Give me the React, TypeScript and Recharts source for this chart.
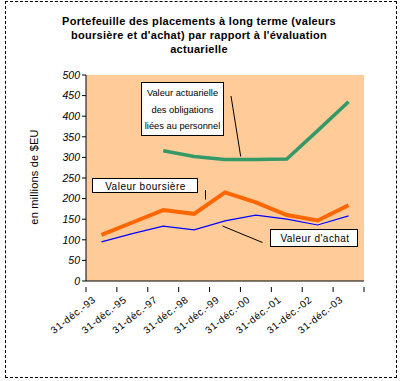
import React from "react";
import { LineChart, Line, XAxis, YAxis, CartesianGrid } from "recharts";

const dates = [
  "31-déc.-93",
  "31-déc.-95",
  "31-déc.-97",
  "31-déc.-98",
  "31-déc.-99",
  "31-déc.-00",
  "31-déc.-01",
  "31-déc.-02",
  "31-déc.-03",
];
const boursiere = [112, 142, 172, 163, 215, 191, 160, 147, 184];
const achat = [95, 115, 133, 124, 146, 160, 150, 136, 158];
const actuarielle = [null, null, 316, 302, 295, 295, 296, 365, 435];
const yTicks = [0, 50, 100, 150, 200, 250, 300, 350, 400, 450, 500];

const data = dates.map((d, i) => ({
  date: d,
  boursiere: boursiere[i],
  achat: achat[i],
  actuarielle: actuarielle[i],
}));

const FONT = "Arial, 'Liberation Sans', sans-serif";
const W = 401;
const H = 381;
const PLOT_W = 278;
const HALF = PLOT_W / dates.length / 2;

function DateTick(props: any) {
  const { x, y, payload, index } = props;
  const last = index === dates.length - 1;
  const tx = x - 5;
  const ty = y + 12;
  return (
    <g>
      <line x1={x - HALF} x2={x - HALF} y1={y - 2} y2={y + 3} stroke="#000" />
      {last && (
        <line x1={x + HALF} x2={x + HALF} y1={y - 2} y2={y + 3} stroke="#000" />
      )}
      <text
        x={tx}
        y={ty}
        textAnchor="end"
        fontSize={10}
        letterSpacing={0.6}
        fontFamily={FONT}
        fill="#000"
        transform={`rotate(-38 ${tx} ${ty})`}
      >
        {payload.value}
      </text>
    </g>
  );
}

export default function App() {
  return (
    <div style={{ position: "absolute", left: 0, top: 0, width: W, height: H, background: "#fff" }}>
      <div
        style={{
          position: "absolute",
          left: 5,
          top: 1,
          width: 390,
          height: 375,
          border: "1px dashed #000",
        }}
      />
      <div style={{ position: "absolute", left: 0, top: 0 }}>
        <LineChart
          width={W}
          height={H}
          data={data}
          margin={{ top: 75, right: 37, bottom: 40, left: 46 }}
        >
          <CartesianGrid horizontal={false} vertical={false} fill="#FFCC99" />
          <XAxis
            dataKey="date"
            padding={{ left: HALF, right: HALF }}
            height={60}
            interval={0}
            tickLine={false}
            axisLine={{ stroke: "#000" }}
            tick={<DateTick />}
          />
          <XAxis
            xAxisId="top"
            dataKey="date"
            orientation="top"
            height={0}
            tick={false}
            tickLine={false}
            axisLine={{ stroke: "#A0A0A0" }}
          />
          <YAxis
            domain={[0, 500]}
            ticks={yTicks}
            width={40}
            interval={0}
            tickSize={4}
            tickLine={{ stroke: "#000" }}
            axisLine={{ stroke: "#000" }}
            tick={{ fontSize: 10.5, fill: "#000", fontFamily: FONT, fontStyle: "italic" }}
          />
          <YAxis
            yAxisId="r"
            orientation="right"
            domain={[0, 500]}
            width={0}
            tick={false}
            tickLine={false}
            axisLine={{ stroke: "#A0A0A0" }}
          />
          <Line
            dataKey="actuarielle"
            type="linear"
            stroke="#339966"
            strokeWidth={3.5}
            dot={false}
            isAnimationActive={false}
          />
          <Line
            dataKey="boursiere"
            type="linear"
            stroke="#FF6600"
            strokeWidth={4}
            dot={false}
            isAnimationActive={false}
          />
          <Line
            dataKey="achat"
            type="linear"
            stroke="#0000FF"
            strokeWidth={1.2}
            dot={false}
            isAnimationActive={false}
          />
        </LineChart>
      </div>
      <svg
        width={W}
        height={H}
        style={{ position: "absolute", left: 0, top: 0, pointerEvents: "none" }}
        fontFamily={FONT}
      >
        <g fontSize={11} fontWeight="bold" textAnchor="middle" fill="#000" letterSpacing={0.3}>
          <text x={199} y={25}>Portefeuille des placements à long terme (valeurs</text>
          <text x={199} y={39}>boursière et d'achat) par rapport à l'évaluation</text>
          <text x={199} y={53}>actuarielle</text>
        </g>
        <text
          x={38}
          y={177}
          fontSize={11}
          textAnchor="middle"
          letterSpacing={0.2}
          transform="rotate(-90 38 177)"
        >
          en millions de $EU
        </text>

        <rect x={141.5} y={82.5} width={82} height={53} fill="#fff" stroke="#000" />
        <g fontSize={9.3} textAnchor="middle">
          <text x={182.5} y={96}>Valeur actuarielle</text>
          <text x={182.5} y={113}>des obligations</text>
          <text x={182.5} y={129}>liées au personnel</text>
        </g>
        <line x1={231} y1={96} x2={240.7} y2={156.5} stroke="#000" />

        <rect x={92.5} y={178.5} width={105} height={14} fill="#fff" stroke="#000" />
        <text x={145.5} y={189.5} fontSize={10} letterSpacing={0.5} textAnchor="middle">
          Valeur boursière
        </text>
        <line x1={205.5} y1={190} x2={205.5} y2={199.5} stroke="#000" />

        <rect x={270.5} y={229.5} width={87} height={17} fill="#fff" stroke="#000" />
        <text x={315} y={241.5} fontSize={10} letterSpacing={0.45} textAnchor="middle">
          Valeur d'achat
        </text>
        <line x1={222.5} y1={226} x2={262.5} y2={242.5} stroke="#000" />
      </svg>
    </div>
  );
}
